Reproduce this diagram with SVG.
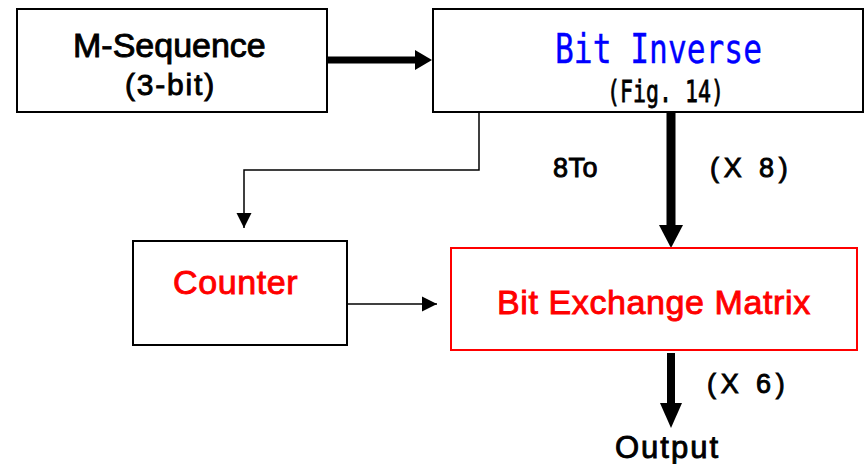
<svg xmlns="http://www.w3.org/2000/svg" width="865" height="464" viewBox="0 0 865 464">
  <style>
    .box{fill:#fff;stroke:#000;stroke-width:2}
    .rbox{fill:#fff;stroke:#ff0000;stroke-width:2}
    .sans{font-family:"Liberation Sans",Arial,sans-serif;fill:#000;stroke:#000;stroke-width:0.9}
    .red{fill:#ff0000;stroke:#ff0000}
    .mono{font-family:"DejaVu Sans Mono","Liberation Mono",monospace}
    .thin{fill:none;stroke:#000;stroke-width:1.5}
    .thick{fill:none;stroke:#000}
  </style>
  <defs>
    <marker id="ahThin" markerUnits="userSpaceOnUse" markerWidth="16" markerHeight="16" refX="15" refY="8" orient="auto">
      <path d="M0,0.5 L15,8 L0,15.5 Z" fill="#000"/>
    </marker>
  </defs>
  <rect width="865" height="464" fill="#fff"/>

  <g id="connectors">
    <!-- M-Sequence to Bit Inverse -->
    <line class="thick" x1="327" y1="60" x2="418" y2="60" stroke-width="7"/>
    <path d="M415,50 L432,60 L415,70 Z" fill="#000"/>
    <!-- Bit Inverse to Counter -->
    <path class="thin" d="M479,113 V170 H244 V228" marker-end="url(#ahThin)"/>
    <!-- Bit Inverse to Bit Exchange Matrix (X 8) -->
    <line class="thick" x1="671" y1="112" x2="671" y2="228" stroke-width="9"/>
    <path d="M659,225 L683,225 L671,248 Z" fill="#000"/>
    <!-- Counter to Bit Exchange Matrix -->
    <path class="thin" d="M347,304 H437" marker-end="url(#ahThin)"/>
    <!-- Bit Exchange Matrix to Output (X 6) -->
    <line class="thick" x1="671" y1="353" x2="671" y2="406" stroke-width="8"/>
    <path d="M660,403 L682,403 L671,428 Z" fill="#000"/>
  </g>

  <g id="m-sequence">
    <rect class="box" x="17" y="9" width="310" height="103"/>
    <text class="sans" x="73" y="57" font-size="34">M-Sequence</text>
    <text class="sans" x="125" y="95" font-size="30" letter-spacing="1.8">(3-bit)</text>
  </g>

  <g id="bit-inverse">
    <rect class="box" x="433" y="9" width="430" height="103"/>
    <text class="mono" x="555" y="63" font-size="40" fill="#0000ff" stroke="#0000ff" stroke-width="0.4" textLength="207" lengthAdjust="spacingAndGlyphs">Bit Inverse</text>
    <text class="mono" x="607" y="102" font-size="31" fill="#000" stroke="#000" stroke-width="0.8" textLength="117" lengthAdjust="spacingAndGlyphs">(Fig. 14)</text>
  </g>

  <g id="counter">
    <rect class="box" x="133" y="241" width="214" height="104"/>
    <text class="sans red" x="173" y="294" font-size="34" letter-spacing="0.6">Counter</text>
  </g>

  <g id="bit-exchange-matrix">
    <rect class="rbox" x="451" y="248" width="406" height="102"/>
    <text class="sans red" x="497" y="314" font-size="34" letter-spacing="0.6">Bit Exchange Matrix</text>
  </g>

  <g id="labels">
    <text class="sans" x="553" y="177" font-size="27" letter-spacing="0.5">8To</text>
    <text class="sans" x="710" y="177" font-size="27" letter-spacing="4.8">(X 8)</text>
    <text class="sans" x="707" y="393" font-size="27" letter-spacing="4.8">(X 6)</text>
  </g>

  <g id="output">
    <text class="sans" x="615" y="458" font-size="31" letter-spacing="2">Output</text>
  </g>
</svg>
